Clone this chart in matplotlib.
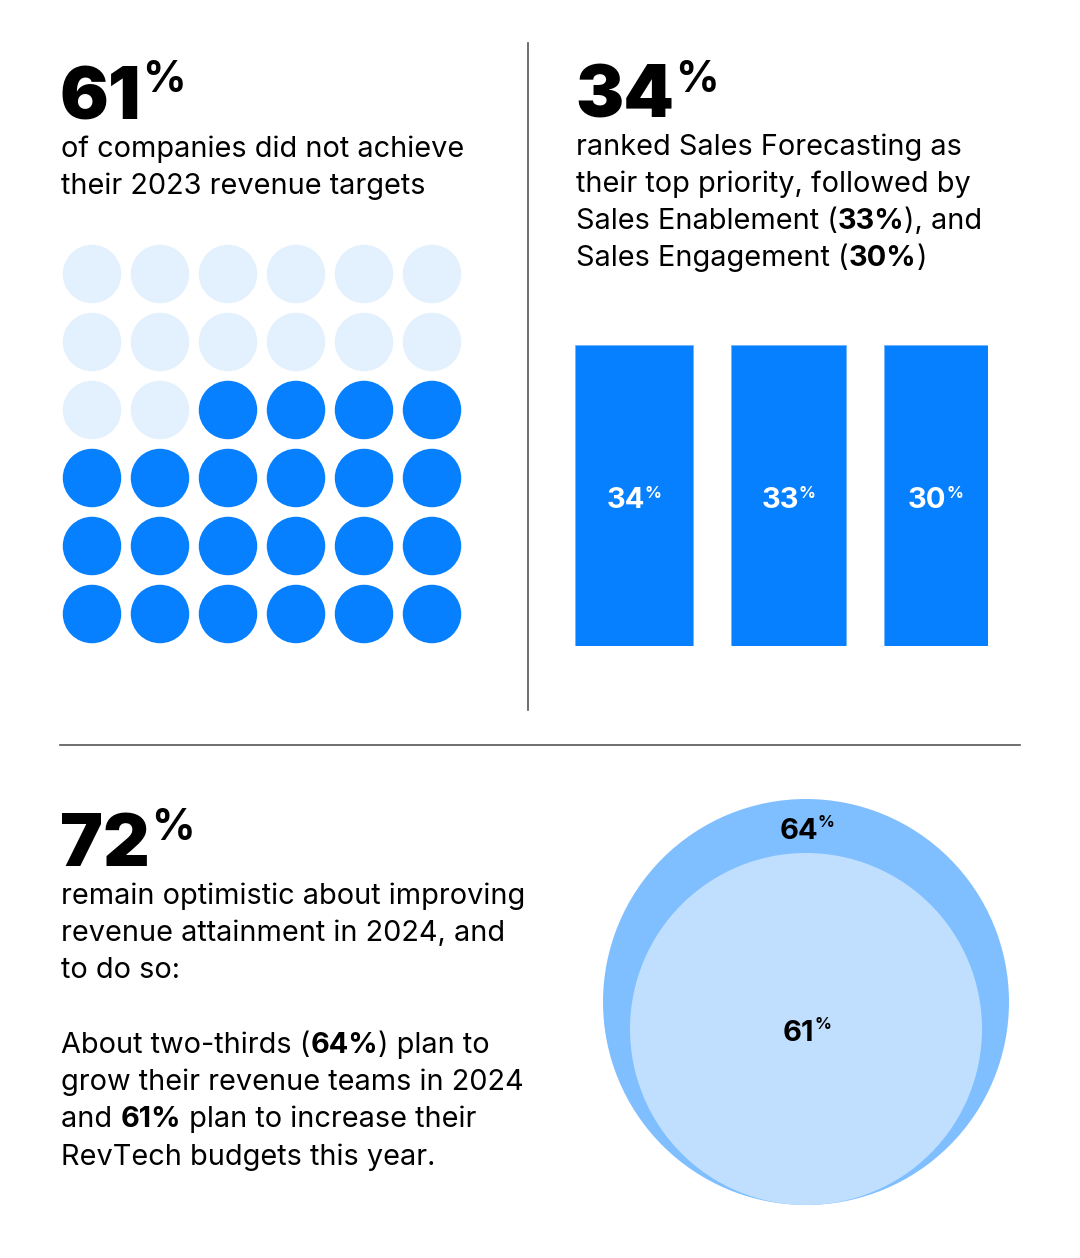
import matplotlib
matplotlib.use("Agg")
import matplotlib.pyplot as plt
from matplotlib.patches import Circle

# ---------------- data ----------------
stat_missed = 61          # % did not achieve targets
waffle_total = 36
waffle_filled = 22
priority_labels = ["Sales Forecasting", "Sales Enablement", "Sales Engagement"]
priority_values = [34, 33, 30]
optimistic = 72
circle_labels = ["grow revenue teams", "increase RevTech budgets"]
circle_values = [64, 61]

# ---------------- style ----------------
W, H = 1080, 1258
FONT = "Inter"
BLUE = "#0780FF"
LIGHT = "#E3F0FD"
OUTER = "#80BFFF"
INNER = "#C0DFFF"
GREY = "#555555"
BODY = 20.8
BIG = 52
BIGPCT = 31

plt.rcParams["font.family"] = [FONT, "DejaVu Sans"]
fig = plt.figure(figsize=(W / 100, H / 100), dpi=100)
fig.patch.set_facecolor("white")
renderer = fig.canvas.get_renderer()


def fx(x):
    return x / W


def fy(y):
    return 1 - y / H


def width_px(t):
    bb = t.get_window_extent(renderer=renderer)
    return bb.width


def big_number(x, y_base, value, size=BIG, pct_size=BIGPCT, color="black",
               weight="black", pct_top=None, ha="left", shift=1.0):
    t = fig.text(fx(x), fy(y_base), f"{value}", fontsize=size, fontweight=weight,
                 color=color, va="baseline", ha="left")
    w = width_px(t)
    p = fig.text(fx(x), fy(pct_top), "%", fontsize=pct_size, fontweight="bold",
                 color=color, va="top", ha="left")
    pw = width_px(p)
    if ha == "center":
        total = w + shift + pw
        x0 = x - total / 2
        t.set_x(fx(x0))
        p.set_x(fx(x0 + w + shift))
    else:
        p.set_x(fx(x + w + shift))


def rich_line(x, y, segments, size=BODY):
    cx = x
    for txt, bold in segments:
        t = fig.text(fx(cx), fy(y), txt, fontsize=size,
                     fontweight="bold" if bold else "normal",
                     color="black", va="baseline", ha="left")
        cx += width_px(t)


# ---------------- separators ----------------
fig.add_artist(plt.Line2D([fx(528), fx(528)], [fy(43), fy(710)],
                          color=GREY, lw=1.2))
fig.add_artist(plt.Line2D([fx(60), fx(1020)], [fy(745), fy(745)],
                          color=GREY, lw=1.2))

# ---------------- panel 1: waffle ----------------
big_number(60, 119, stat_missed, pct_top=60)
rich_line(61, 157, [("of companies did not achieve", False)])
rich_line(61, 194, [("their 2023 revenue targets", False)])

axw = fig.add_axes([fx(58), fy(648), 408 / W, 408 / H])
ncols = 6
nrows = waffle_total // ncols
empty = waffle_total - waffle_filled
for k in range(waffle_total):
    r, c = divmod(k, ncols)
    col = LIGHT if k < empty else BLUE
    axw.add_patch(Circle((c + 0.5, nrows - r - 0.5), 0.43, color=col, lw=0))
axw.set_xlim(0, ncols)
axw.set_ylim(0, nrows)
axw.set_aspect("equal")
axw.axis("off")

# ---------------- panel 2: bars ----------------
big_number(575, 117, priority_values[0], pct_top=60)
rich_line(576, 155, [("ranked Sales Forecasting as", False)])
rich_line(576, 192, [("their top priority, followed by", False)])
rich_line(576, 229, [("Sales Enablement (", False), (f"{priority_values[1]}%", True),
                     ("), and", False)])
rich_line(576, 266, [("Sales Engagement (", False), (f"{priority_values[2]}%", True),
                     (")", False)])

gap = 10.8
axb = fig.add_axes([fx(575), fy(646), (988 - 575) / W, (646 - 345) / H])
lefts = []
pos = 0
for v in priority_values:
    lefts.append(pos)
    pos += v + gap
axb.bar(lefts, [1] * len(priority_values), width=priority_values, align="edge",
        color=BLUE, edgecolor="#6FB2FF", linewidth=0.6)
axb.set_xlim(0, sum(priority_values) + gap * (len(priority_values) - 1))
axb.set_ylim(0, 1)
axb.axis("off")
fig.canvas.draw()
for l, v in zip(lefts, priority_values):
    disp = axb.transData.transform((l + v / 2, 0.5))
    cxp = disp[0]
    big_number(cxp, 508, v, size=21, pct_size=12, color="white",
               weight="bold", pct_top=486, ha="center", shift=0)

# ---------------- panel 3: circles ----------------
big_number(60, 866, optimistic, pct_top=808)
lines3 = [
    [("remain optimistic about improving", False)],
    [("revenue attainment in 2024, and", False)],
    [("to do so:", False)],
    None,
    [("About two-thirds (", False), (f"{circle_values[0]}%", True), (") plan to", False)],
    [("grow their revenue teams in 2024", False)],
    [("and ", False), (f"{circle_values[1]}%", True), (" plan to increase their", False)],
    [("RevTech budgets this year.", False)],
]
ys = [904, 941, 978, None, 1053, 1090, 1127, 1165]
for segs, yy in zip(lines3, ys):
    if segs:
        rich_line(61, yy, segs)

axc = fig.add_axes([fx(600), fy(1210), 412 / W, 415 / H])
axc.set_xlim(600, 1012)
axc.set_ylim(-1210, -795)
axc.set_aspect("equal")
axc.axis("off")
R_out, R_in = 203, 176
cx0, cy_bottom = 806, -1205
axc.add_patch(Circle((cx0, cy_bottom + R_out), R_out, color=OUTER, lw=0))
axc.add_patch(Circle((cx0, cy_bottom + R_in), R_in, color=INNER, lw=0))

big_number(807, 839, circle_values[0], size=21, pct_size=12, color="black",
           weight="bold", pct_top=815, ha="center", shift=0)
big_number(807, 1041, circle_values[1], size=21, pct_size=12, color="black",
           weight="bold", pct_top=1017, ha="center", shift=0)

fig.savefig("out.png", dpi=100, facecolor="white")
